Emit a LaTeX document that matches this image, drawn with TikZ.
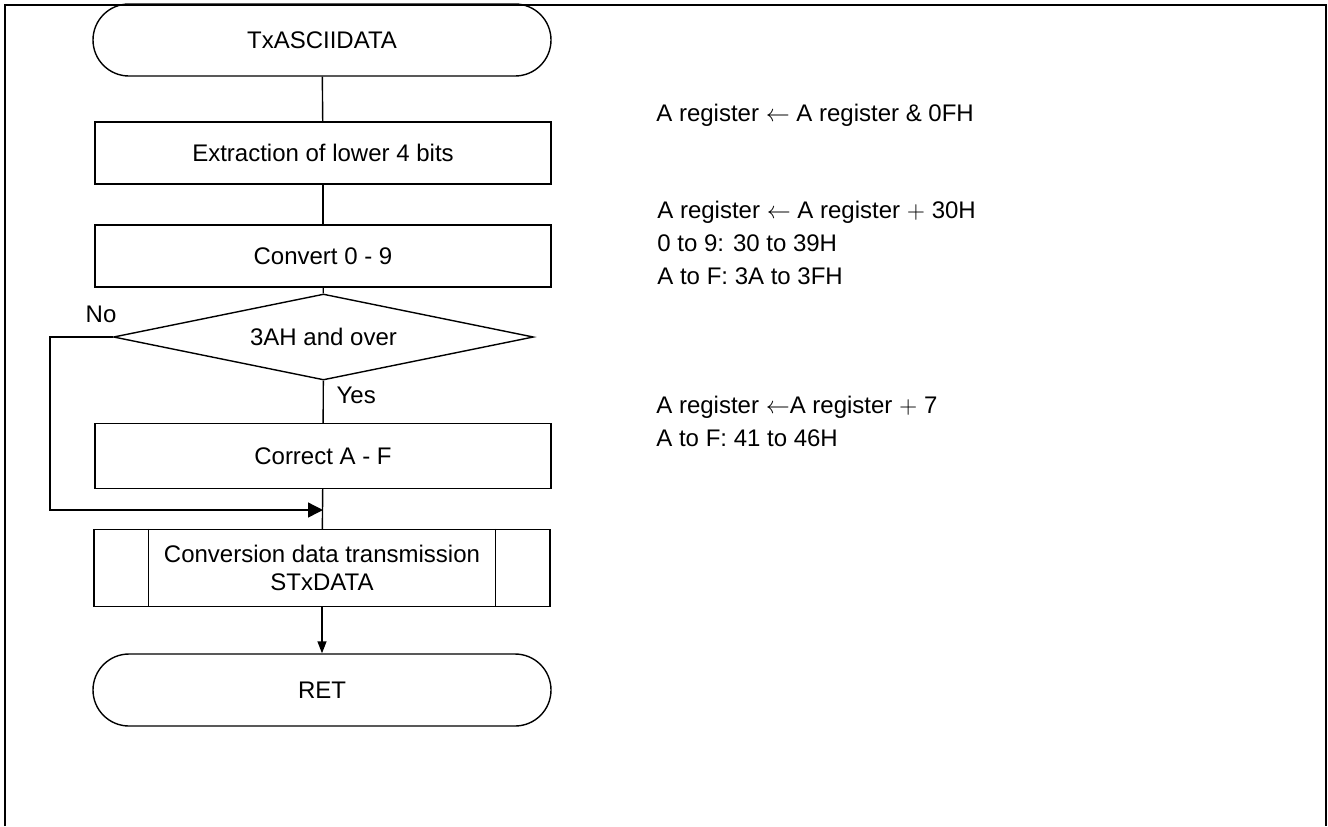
\documentclass[tikz,border=0pt]{standalone}
\usepackage{fontspec}
\setmainfont{Liberation Sans}
\usetikzlibrary{arrows.meta, positioning, shapes.geometric}

\begin{document}
\begin{tikzpicture}[
    x=0.5pt, y=-0.5pt,
    every node/.style={font=\fontsize{12}{14}\selectfont},
    proc/.style={draw, line width=0.7pt, minimum width=228pt, minimum height=31pt, inner sep=2pt},
    term/.style={proc, rounded corners=18pt, minimum width=229pt, minimum height=36pt},
    decide/.style={draw, diamond, line width=0.7pt, aspect=4.9, minimum width=210pt, minimum height=43pt, inner sep=1pt},
    note/.style={anchor=west, align=left, inner sep=0pt, font=\fontsize{12}{16.5}\selectfont},
    flow/.style={line width=0.7pt},
    arrowstyle/.style={flow, -{Triangle[length=7.5pt, width=7.5pt]}},
]
    \useasboundingbox (0,0) rectangle (1328,826);

    % Outer frame (open at the bottom)
    \draw[line width=1.3pt] (5,826) -- (5,5) -- (1326,5) -- (1326,826);

    % Flow chart boxes
    \node[term] (start) at (322,40) {TxASCIIDATA};
    \node[proc] (extract) at (323,153) {Extraction of lower 4 bits};
    \node[proc] (conv) at (323,256) {Convert 0 - 9};
    \node[decide] (check) at (323.5,337) {3AH and over};
    \node[proc, minimum height=32.5pt] (correct) at (323,456) {Correct A - F};
    \node[proc, minimum height=38.5pt, align=center] (send) at (322,568) {Conversion data transmission\\STxDATA};
    \node[term] (ret) at (322,690) {RET};

    % Side bars of the subroutine box
    \draw[flow] ([xshift=27.5pt]send.north west) -- ([xshift=27.5pt]send.south west);
    \draw[flow] ([xshift=-27.5pt]send.north east) -- ([xshift=-27.5pt]send.south east);

    % Merge point of the No branch
    \coordinate (join) at (323,510);

    % Connectors
    \draw[flow] (start) -- (extract);
    \draw[flow] (extract) -- (conv);
    \draw[flow] (conv) -- (check);
    \draw[flow] (check) -- node[pos=0.35, anchor=west, xshift=3pt] (yes) {Yes} (correct);
    \draw[flow] (correct) -- (send);
    \draw[arrowstyle] (check.west) -- ++(-31.5pt,0) |- (join);
    \node[anchor=south east, inner sep=0pt, xshift=2pt, yshift=7pt] (no) at (check.west) {No};
    \draw[flow, -{Triangle[length=6pt, width=4.5pt]}] (send) -- (ret);

    % Notes on the right
    \node[note] (n1) at (656,115) {A register $\leftarrow$ A register \& 0FH};
    \node[note] (n2) at (657,243) {A register $\leftarrow$ A register $+$ 30H\\0 to 9: 30 to 39H\\A to F: 3A to 3FH};
    \node[note] (n3) at (656,421) {A register $\leftarrow$A register $+$ 7\\A to F: 41 to 46H};

\end{tikzpicture}
\end{document}
